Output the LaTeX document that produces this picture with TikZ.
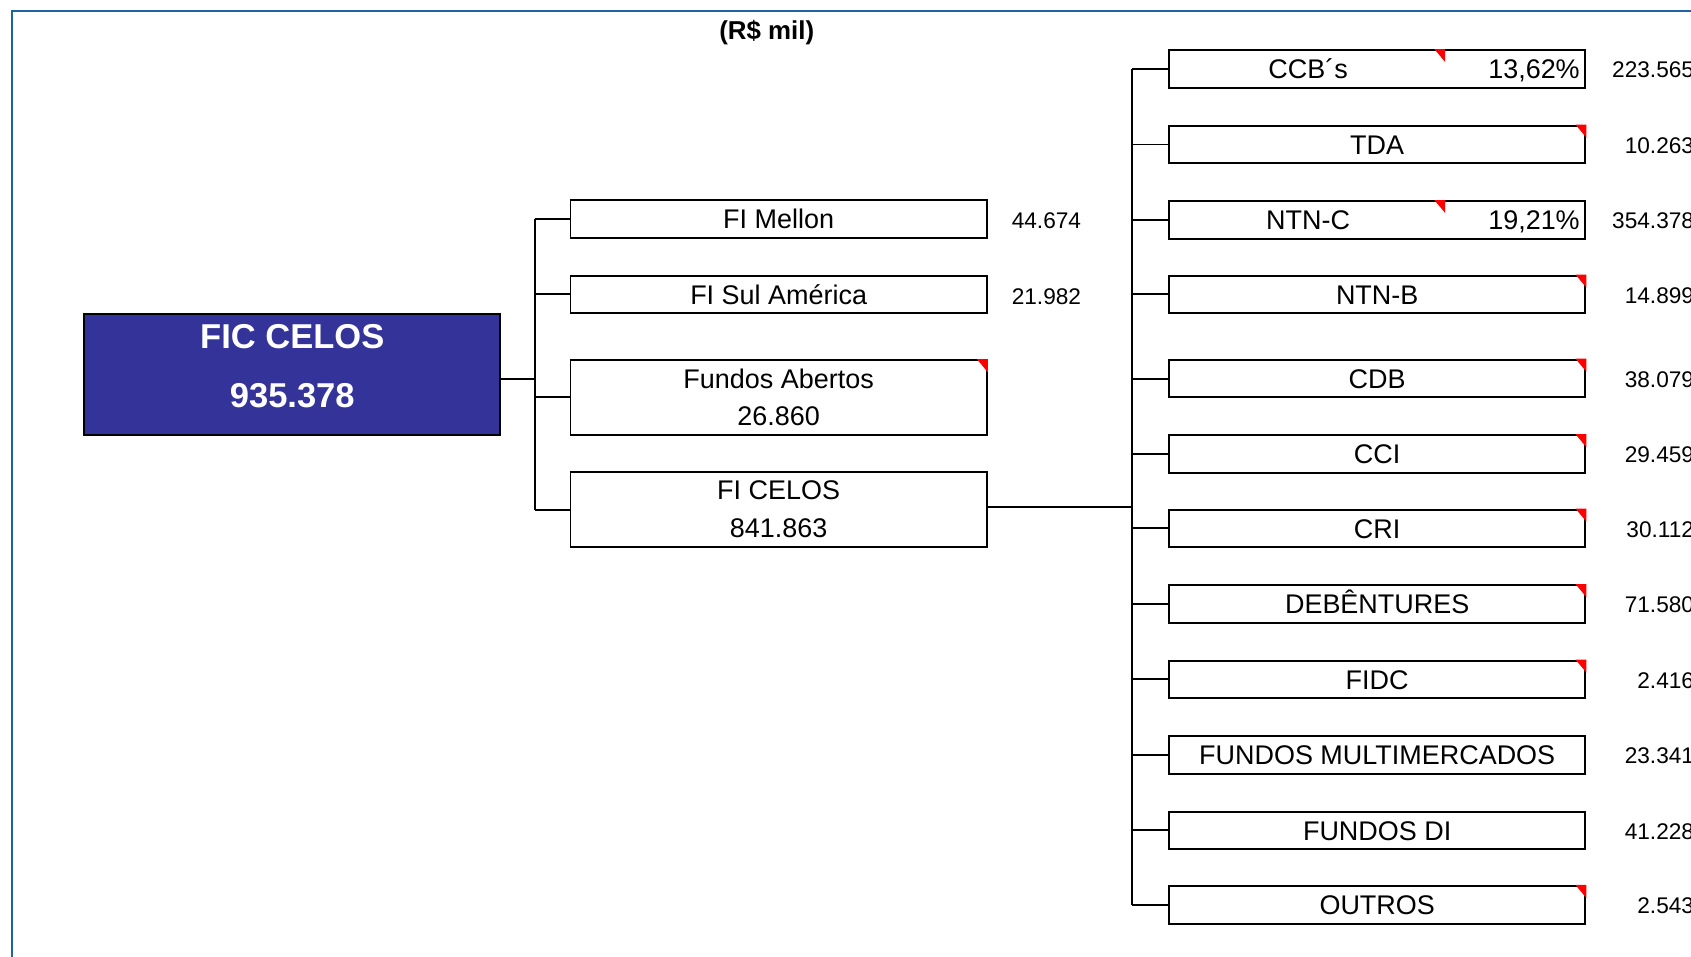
\documentclass[tikz,border=0pt]{standalone}
\usepackage{fontspec}
\setmainfont{Liberation Sans}
\usetikzlibrary{calc}
\definecolor{celosblue}{RGB}{51,51,153}
\definecolor{framebl}{RGB}{30,100,165}
\def\redmark(#1){\fill[red] ($(#1)+(-10,0)$) -- (#1) -- ($(#1)+(0,12)$) -- cycle;}
\tikzset{
	root/.style={draw=black, fill=celosblue, text=white, line width=1.8pt, minimum width=386pt, minimum height=112pt, inner sep=0pt, align=center, font=\bfseries\fontsize{32}{55}\selectfont},
	box/.style={draw=black, line width=1.8pt, minimum width=386pt, minimum height=35pt, inner sep=0pt, align=center, font=\fontsize{25}{35}\selectfont, text height=18pt, text depth=0pt},
	tallbox/.style={draw=black, line width=1.8pt, minimum width=386pt, minimum height=69pt, inner sep=0pt, align=center, font=\fontsize{25}{35}\selectfont},
	lbl/.style={inner sep=0pt, font=\fontsize{25}{30}\selectfont, text height=18pt, text depth=0pt},
	val/.style={inner sep=0pt, font=\fontsize{21}{25}\selectfont},
	link/.style={line width=1.8pt}
}
\begin{document}
\begin{tikzpicture}[x=1pt, y=-1pt]
		%%%%% START %%%%%
		
		\useasboundingbox (0,0) rectangle (1568,887);
		\draw[framebl, line width=2.2pt] (11,900) -- (11,10) -- (1600,10);
		
		\node[font=\bfseries\fontsize{24}{28}\selectfont] (unit) at (711,30) {(R\$ mil)};
		
		\node[root] (fic) at (271,347) {};
		\node[text=white, font=\bfseries\fontsize{32}{36}\selectfont, inner sep=0pt] (fictxt) at (271,312) {FIC CELOS};
		\node[text=white, font=\bfseries\fontsize{32}{36}\selectfont, inner sep=0pt] (ficval) at (271,367) {935.378};
		
		\node[box] (mellon) at (722,203) {FI Mellon};
		\node[box] (sul) at (722,273) {FI Sul América};
		\node[tallbox] (abertos) at (722,368.5) {Fundos Abertos\\26.860};
		\node[tallbox] (celos) at (722,472.5) {FI CELOS\\841.863};
		
		\node[val, anchor=west] (vmellon) at (938,205) {44.674};
		\node[val, anchor=west] (vsul) at (938,275) {21.982};
		
		\node[box] (ccb) at (1277,64) {};
		\node[lbl] (ccbtxt) at (1213,64) {CCB´s};
		\node[lbl, anchor=east] (ccbpct) at (1465,64) {13,62\%};
		\node[box] (tda) at (1277,134) {TDA};
		\node[box] (ntnc) at (1277,204) {};
		\node[lbl] (ntnctxt) at (1213,204) {NTN-C};
		\node[lbl, anchor=east] (ntncpct) at (1465,204) {19,21\%};
		\node[box] (ntnb) at (1277,273) {NTN-B};
		\node[box] (cdb) at (1277,351) {CDB};
		\node[box] (cci) at (1277,421) {CCI};
		\node[box] (cri) at (1277,490) {CRI};
		\node[box] (deb) at (1277,560) {DEBÊNTURES};
		\node[box] (fidc) at (1277,630) {FIDC};
		\node[box] (fmult) at (1277,700) {FUNDOS MULTIMERCADOS};
		\node[box] (fdi) at (1277,770) {FUNDOS DI};
		\node[box] (outros) at (1277,839) {OUTROS};
		
		\node[val, anchor=east] (vccb) at (1571,65) {223.565};
		\node[val, anchor=east] (vtda) at (1571,135) {10.263};
		\node[val, anchor=east] (vntnc) at (1571,205) {354.378};
		\node[val, anchor=east] (vntnb) at (1571,274) {14.899};
		\node[val, anchor=east] (vcdb) at (1571,352) {38.079};
		\node[val, anchor=east] (vcci) at (1571,422) {29.459};
		\node[val, anchor=east] (vcri) at (1571,491) {30.112};
		\node[val, anchor=east] (vdeb) at (1571,561) {71.580};
		\node[val, anchor=east] (vfidc) at (1571,631) {2.416};
		\node[val, anchor=east] (vfmult) at (1571,701) {23.341};
		\node[val, anchor=east] (vfdi) at (1571,771) {41.228};
		\node[val, anchor=east] (voutros) at (1571,840) {2.543};
		
		% red corner marks
		\coordinate (ccbmk) at ($(ccb.north west)+(257,0)$);
		\coordinate (ntncmk) at ($(ntnc.north west)+(257,0)$);
		\redmark(ccbmk)
		\redmark(ntncmk)
		\redmark(abertos.north east)
		\redmark(tda.north east)
		\redmark(ntnb.north east)
		\redmark(cdb.north east)
		\redmark(cci.north east)
		\redmark(cri.north east)
		\redmark(deb.north east)
		\redmark(fidc.north east)
		\redmark(outros.north east)
		
		% first level
		\coordinate (j1) at (496,351);
		\draw[link] (fic.east |- j1) -- (j1);
		\draw[link] (j1 |- mellon.west) -- (j1 |- celos.west);
		\draw[link] (j1 |- mellon.west) -- (mellon.west);
		\draw[link] (j1 |- sul.west) -- (sul.west);
		\draw[link] (j1 |- abertos.west) -- (abertos.west);
		\draw[link] (j1 |- celos.west) -- (celos.west);
		
		% second level
		\coordinate (j2) at (1050,470);
		\draw[link] (celos.east |- j2) -- (j2);
		\draw[link] (j2 |- ccb.west) -- (j2 |- outros.west);
		\draw[link] (j2 |- ccb.west) -- (ccb.west);
		\draw[link] (j2 |- tda.west) -- (tda.west);
		\draw[link] (j2 |- ntnc.west) -- (ntnc.west);
		\draw[link] (j2 |- ntnb.west) -- (ntnb.west);
		\draw[link] (j2 |- cdb.west) -- (cdb.west);
		\draw[link] (j2 |- cci.west) -- (cci.west);
		\draw[link] (j2 |- cri.west) -- (cri.west);
		\draw[link] (j2 |- deb.west) -- (deb.west);
		\draw[link] (j2 |- fidc.west) -- (fidc.west);
		\draw[link] (j2 |- fmult.west) -- (fmult.west);
		\draw[link] (j2 |- fdi.west) -- (fdi.west);
		\draw[link] (j2 |- outros.west) -- (outros.west);
		
		%%%%% END %%%%%
	\end{tikzpicture}
\end{document}
